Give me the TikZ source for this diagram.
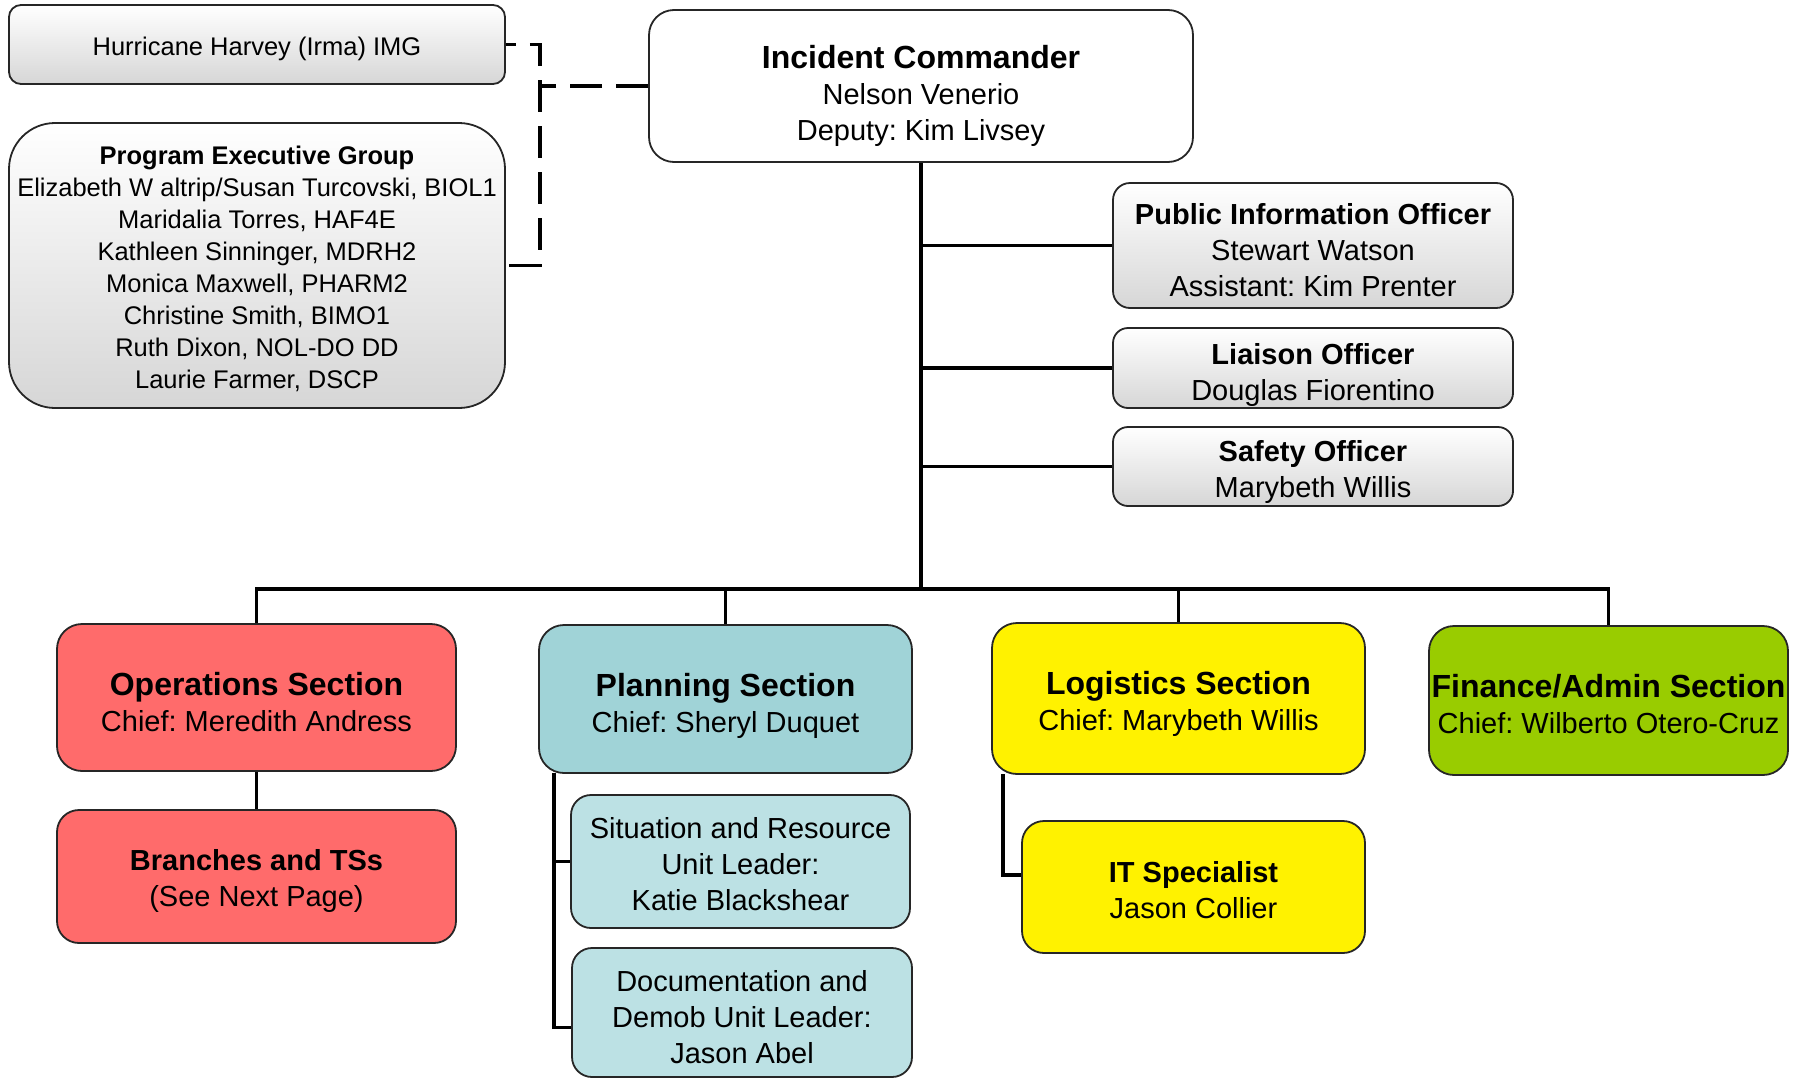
\documentclass[tikz,border=0pt]{standalone}
\usepackage{fontspec}
\setmainfont{Liberation Sans}
\frenchspacing
\begin{document}
\begin{tikzpicture}[x=1pt,y=-1pt,
  base/.style={draw=black!85, line width=1.8pt, inner sep=0pt},
  txt/.style={inner sep=0pt, align=center, font=\fontsize{29}{36}\selectfont},
  smalltxt/.style={txt, font=\fontsize{25.5}{32}\selectfont},
  graybox/.style={base, top color=white, bottom color=black!16},
  whitebox/.style={base, fill=white},
  opsbox/.style={base, fill=opsred},
  plnbox/.style={base, fill=plnblue},
  subbox/.style={base, fill=subblue},
  logbox/.style={base, fill=yellow},
  finbox/.style={base, fill=fingreen},
  conn/.style={line width=3.5pt, black},
  dashconn/.style={line width=3.6pt, black, dash pattern=on 32pt off 14pt}]
\definecolor{opsred}{HTML}{FF6B6B}
\definecolor{plnblue}{HTML}{A0D3D7}
\definecolor{subblue}{HTML}{BCE1E4}
\definecolor{fingreen}{HTML}{99CC00}
\newcommand{\tbig}{\fontsize{32}{37}\selectfont\bfseries}
\newcommand{\tmid}{\fontsize{29}{36}\selectfont\bfseries}
\useasboundingbox (0,0) rectangle (1798,1079);

% top left
\node[graybox, rounded corners=12pt, minimum width=496pt, minimum height=79pt] (hur) at (257,44.5) {};
\node[smalltxt] (hur-t) at ([yshift=-4pt]hur.center) {Hurricane Harvey (Irma) IMG};
\node[graybox, rounded corners=46pt, minimum width=496pt, minimum height=285pt] (peg) at (257,265.5) {};
\node[smalltxt] (peg-t) at ([yshift=-3pt]peg.center)
  {{\bfseries Program Executive Group}\\ Elizabeth W altrip/Susan Turcovski, BIOL1\\ Maridalia Torres, HAF4E\\ Kathleen Sinninger, MDRH2\\ Monica Maxwell, PHARM2\\ Christine Smith, BIMO1\\ Ruth Dixon, NOL-DO DD\\ Laurie Farmer, DSCP};

% commander
\node[whitebox, rounded corners=25pt, minimum width=544pt, minimum height=152pt] (ic) at (921,86) {};
\node[txt] (ic-t) at ([yshift=-10pt]ic.center)
  {{\tbig Incident Commander}\\ Nelson Venerio\\ Deputy: Kim Livsey};

% officers
\node[graybox, rounded corners=17pt, minimum width=400pt, minimum height=125pt] (pio) at (1313,245.5) {};
\node[txt] (pio-t) at ([yshift=-5pt]pio.center)
  {{\tmid Public Information Officer}\\ Stewart Watson\\ Assistant: Kim Prenter};
\node[graybox, rounded corners=15pt, minimum width=400pt, minimum height=80pt] (lia) at (1313,368) {};
\node[txt] (lia-t) at ([yshift=-7pt]lia.center)
  {{\tmid Liaison Officer}\\ Douglas Fiorentino};
\node[graybox, rounded corners=15pt, minimum width=400pt, minimum height=79pt] (saf) at (1313,466.5) {};
\node[txt] (saf-t) at ([yshift=-5pt]saf.center)
  {{\tmid Safety Officer}\\ Marybeth Willis};

% sections
\node[opsbox, rounded corners=25pt, minimum width=399pt, minimum height=147pt] (ops) at (256.5,697.5) {};
\node[txt] (ops-t) at ([yshift=-5pt]ops.center) {{\tbig Operations Section}\\ Chief: Meredith Andress};
\node[plnbox, rounded corners=25pt, minimum width=373pt, minimum height=148pt] (pln) at (725.5,699) {};
\node[txt] (pln-t) at ([yshift=-7pt]pln.center) {{\tbig Planning Section}\\ Chief: Sheryl Duquet};
\node[logbox, rounded corners=25pt, minimum width=373pt, minimum height=151pt] (log) at (1178.5,698.5) {};
\node[txt] (log-t) at ([yshift=-5pt]log.center) {{\tbig Logistics Section}\\ Chief: Marybeth Willis};
\node[finbox, rounded corners=25pt, minimum width=359pt, minimum height=149pt] (fin) at (1608.5,700.5) {};
\node[txt] (fin-t) at ([yshift=-4pt]fin.center) {{\tbig Finance/Admin Section}\\ Chief: Wilberto Otero-Cruz};

% sub units
\node[opsbox, rounded corners=22pt, minimum width=399pt, minimum height=133pt] (br) at (256.5,876.5) {};
\node[txt] (br-t) at ([yshift=-4pt]br.center) {{\tmid Branches and TSs}\\ (See Next Page)};
\node[subbox, rounded corners=20pt, minimum width=339pt, minimum height=133pt] (sit) at (740.5,861.5) {};
\node[txt] (sit-t) at ([yshift=-3pt]sit.center) {Situation and Resource\\ Unit Leader:\\ Katie Blackshear};
\node[subbox, rounded corners=20pt, minimum width=340pt, minimum height=129pt] (doc) at (742,1012.5) {};
\node[txt] (doc-t) at ([yshift=-5pt]doc.center) {Documentation and\\ Demob Unit Leader:\\ Jason Abel};
\node[logbox, rounded corners=22pt, minimum width=343pt, minimum height=132pt] (it) at (1193.5,887) {};
\node[txt] (it-t) at ([yshift=-3pt]it.center) {{\tmid IT Specialist}\\ Jason Collier};

% coordinates
\coordinate (bus) at (0,589);
\coordinate (dj) at (540,0);
\coordinate (pspine) at (554,773);
\coordinate (lspine) at (1003,774);

% dashed links
\draw[dashconn, dash phase=22pt] (hur.east) -| (dj |- peg.east) -- (peg.east);
\draw[dashconn] (ic.west) -- (ic.west -| dj);

% main tree
\draw[conn] (ic.south) -- (ic.south |- bus);
\draw[conn] (pio.west) -- (pio.west -| ic.south);
\draw[conn] (lia.west) -- (lia.west -| ic.south);
\draw[conn] (saf.west) -- (saf.west -| ic.south);
\draw[conn] (ops.north) -- (ops.north |- bus) -- (fin.north |- bus) -- (fin.north);
\draw[conn] (pln.north) -- (pln.north |- bus);
\draw[conn] (log.north) -- (log.north |- bus);

% sub links
\draw[conn, line width=3pt] (ops.south) -- (br.north);
\draw[conn] (pspine) |- (sit.west);
\draw[conn] (pspine) |- ([yshift=-15pt]doc.west);
\draw[conn] (lspine) |- ([yshift=12pt]it.west);
\end{tikzpicture}
\end{document}
